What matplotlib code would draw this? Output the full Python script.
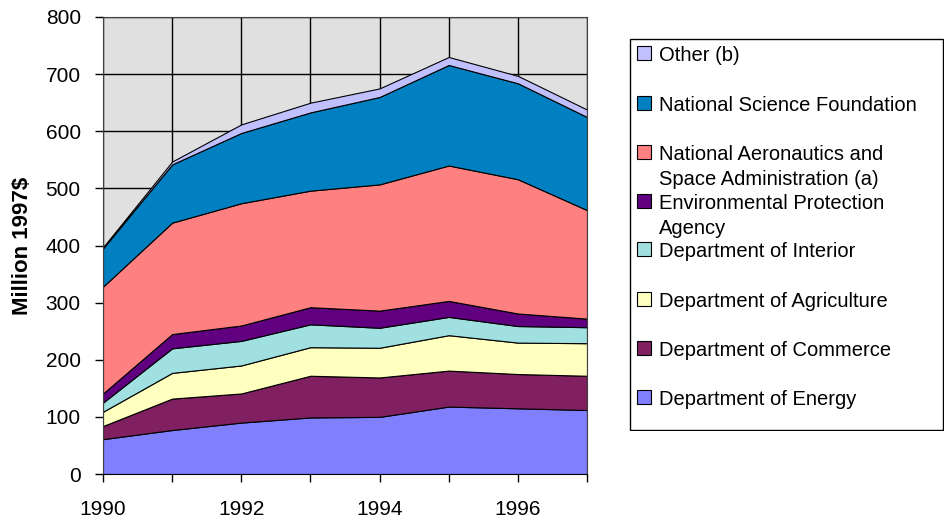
import matplotlib.pyplot as plt
from matplotlib.patches import Rectangle

# Wartości (mln USD z 1997 r.)
years = [1990, 1991, 1992, 1993, 1994, 1995, 1996, 1997]
year_labels = ["1990", "", "1992", "", "1994", "", "1996", ""]

energy      = [61, 77, 90, 99, 100, 118, 115, 112]
commerce    = [23, 55, 51, 73, 69, 63, 60, 60]
agriculture = [25, 45, 49, 50, 52, 62, 55, 57]
interior    = [16, 43, 43, 40, 35, 32, 29, 28]
epa         = [16, 25, 27, 30, 30, 28, 22, 15]
nasa        = [187, 195, 214, 204, 221, 237, 235, 190]
nsf         = [67, 102, 123, 137, 153, 176, 168, 163]
other       = [2, 5, 15, 17, 15, 14, 13, 13]

names = [
    "Department of Energy",
    "Department of Commerce",
    "Department of Agriculture",
    "Department of Interior",
    "Environmental Protection\nAgency",
    "National Aeronautics and\nSpace Administration (a)",
    "National Science Foundation",
    "Other (b)",
]
colors = ["#8080FF", "#802060", "#FFFFC0", "#A0E0E0",
          "#600080", "#FF8080", "#0080C0", "#C0C0FF"]

plt.rcParams["font.family"] = ["Liberation Sans", "DejaVu Sans"]

W, H = 945, 520
fig = plt.figure(figsize=(W / 100, H / 100), dpi=100)
fig.patch.set_facecolor("white")

# obszar wykresu w pikselach: x 103..587, y 17..474
ax = fig.add_axes([103 / W, (H - 474) / H, (587 - 103) / W, (474 - 17) / H])
ax.set_facecolor("#E0E0E0")
ax.stackplot(years, energy, commerce, agriculture, interior, epa, nasa, nsf, other,
             colors=colors, edgecolor="black", linewidth=0.8, zorder=2)

ax.set_xlim(1990, 1997)
ax.set_ylim(0, 800)
ax.set_xticks(years)
ax.set_xticklabels(year_labels)
ax.set_yticks(range(0, 801, 100))
ax.set_axisbelow(True)
ax.grid(True, color="black", linewidth=1.0, zorder=0)
ax.tick_params(axis="both", direction="out", length=6, width=1, labelsize=15)
ax.tick_params(axis="y", pad=10)
ax.tick_params(axis="x", pad=13)
for side in ["top", "right", "left"]:
    ax.spines[side].set_color("#404040")
ax.spines["bottom"].set_color("black")
ax.set_ylabel("Million 1997$", fontsize=16, fontweight="bold", labelpad=9)

# legenda rysowana ręcznie: równe odstępy jak w oryginale
lx0, ly0, lx1, ly1 = 629, 38, 944, 431
lax = fig.add_axes([lx0 / W, (H - ly1) / H, (lx1 - lx0) / W, (ly1 - ly0) / H])
lax.set_xlim(lx0, lx1)
lax.set_ylim(ly1, ly0)
lax.axis("off")
lax.add_patch(Rectangle((lx0 + 0.5, ly0 + 0.5), lx1 - lx0 - 1.5, ly1 - ly0 - 1.5,
                        facecolor="white", edgecolor="black", linewidth=1.0))

row_y = [53, 103, 152, 201, 249, 299, 348, 397]
for i, (name, col) in enumerate(zip(names[::-1], colors[::-1])):
    cy = row_y[i]
    lax.add_patch(Rectangle((637, cy - 7), 14, 14, facecolor=col,
                            edgecolor="black", linewidth=0.8))
    lax.text(659, cy - 7, name, fontsize=14.5, va="top", ha="left",
             linespacing=1.4)

fig.savefig("out.png", dpi=100)
